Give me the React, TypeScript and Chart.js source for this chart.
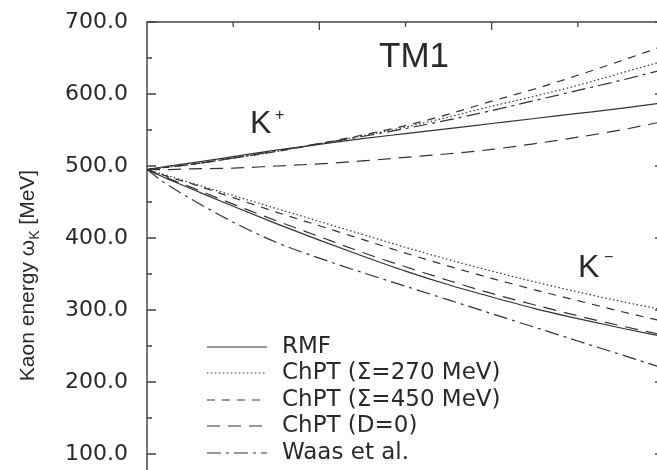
import React, { useEffect, useRef } from "react";
import { Chart, registerables } from "chart.js";

Chart.register(...registerables);

// density (rho / rho0)
const density = [0, 0.1, 0.25, 0.5, 0.75, 1.0, 1.25, 1.5, 1.75, 2.0, 2.25, 2.5, 2.75, 3.0];

// K+ energies [MeV]
const kPlusRMF = [495, 499, 504, 513, 522, 530, 538, 545, 552, 559, 566, 573, 580, 588];
const kPlusChPT270 = [495, 498, 502, 511, 520, 531, 542, 554, 568, 583, 597, 612, 629, 646];
const kPlusChPT450 = [495, 498, 502, 511, 520, 531, 543, 556, 572, 590, 607, 626, 646, 667];
const kPlusD0 = [495, 495, 496, 497, 500, 503, 507, 512, 517, 523, 531, 540, 550, 562];
const kPlusWaas = [495, 498, 502, 511, 521, 531, 541, 552, 564, 577, 591, 605, 619, 634];

// K- energies [MeV]
const kMinusRMF = [495, 484, 469, 444, 420, 397, 375, 354, 335, 318, 302, 288, 275, 263];
const kMinusChPT270 = [495, 488, 477, 459, 441, 423, 405, 387, 370, 354, 339, 325, 312, 300];
const kMinusChPT450 = [495, 487, 476, 456, 436, 417, 398, 379, 361, 344, 328, 313, 298, 284];
const kMinusD0 = [495, 485, 471, 447, 424, 402, 380, 360, 341, 323, 307, 292, 278, 265];
const kMinusWaas = [495, 477, 455, 422, 394, 372, 352, 333, 314, 295, 276, 257, 238, 219];

const seriesLabels = ["RMF", "ChPT (\u03A3=270 MeV)", "ChPT (\u03A3=450 MeV)", "ChPT (D=0)", "Waas et al."];
const seriesDashes: number[][] = [[], [1.5, 2.5], [8, 7], [13, 8], [14, 5, 3, 5]];

const yTicks = [0, 100, 200, 300, 400, 500, 600, 700];

const LINE = "#333";
const TEXT = "#2a2a2a";

function pts(vals: number[]) {
  return vals.map((v, i) => ({ x: density[i], y: v }));
}

const framePlugin = {
  id: "frame",
  afterDraw(chart: any) {
    const ctx = chart.ctx as CanvasRenderingContext2D;
    const { left, top, right, bottom } = chart.chartArea;
    const xs = chart.scales.x;
    const ys = chart.scales.y;
    ctx.save();
    ctx.strokeStyle = "#444";
    ctx.lineWidth = 1.5;
    ctx.beginPath();
    ctx.moveTo(left, bottom);
    ctx.lineTo(left, top);
    ctx.lineTo(right, top);
    ctx.lineTo(right, bottom);
    ctx.stroke();
    ctx.lineWidth = 1.3;
    // y ticks (inward) left & right
    for (let v = 0; v <= 700; v += 50) {
      const y = ys.getPixelForValue(v);
      const len = v % 100 === 0 ? 9 : 5;
      ctx.beginPath();
      ctx.moveTo(left, y);
      ctx.lineTo(left + len, y);
      ctx.moveTo(right, y);
      ctx.lineTo(right - len, y);
      ctx.stroke();
    }
    // x ticks on top (inward)
    for (let d = 0.5; d < 3; d += 0.5) {
      const x = xs.getPixelForValue(d);
      const len = Math.abs(d - Math.round(d)) < 1e-6 ? 8 : 5;
      ctx.beginPath();
      ctx.moveTo(x, top);
      ctx.lineTo(x, top + len);
      ctx.stroke();
    }

    // annotations
    ctx.fillStyle = TEXT;
    ctx.textBaseline = "alphabetic";
    ctx.textAlign = "left";
    ctx.font = '35px "Liberation Sans"';
    ctx.fillText("TM1", 379, 67);
    ctx.font = '32px "Liberation Sans"';
    ctx.fillText("K", 250, 133);
    ctx.font = '16px "Liberation Sans"';
    ctx.fillText("+", 275, 120);
    ctx.font = '32px "Liberation Sans"';
    ctx.fillText("K", 578, 277);
    ctx.font = '16px "Liberation Sans"';
    ctx.fillText("\u2212", 604, 262);

    // y axis title with subscript
    ctx.save();
    ctx.translate(34, 275.5);
    ctx.rotate(-Math.PI / 2);
    const mainFont = '21px "Liberation Sans"';
    const subFont = '14px "Liberation Sans"';
    const p1 = "Kaon energy \u03C9";
    const p2 = "K";
    const p3 = " [MeV]";
    ctx.font = mainFont;
    const w1 = ctx.measureText(p1).width;
    const w3 = ctx.measureText(p3).width;
    ctx.font = subFont;
    const w2 = ctx.measureText(p2).width;
    let x0 = -(w1 + w2 + w3) / 2;
    ctx.font = mainFont;
    ctx.fillText(p1, x0, 0);
    x0 += w1;
    ctx.font = subFont;
    ctx.fillText(p2, x0, 5);
    x0 += w2;
    ctx.font = mainFont;
    ctx.fillText(p3, x0, 0);
    ctx.restore();

    // legend
    const rows = [347, 373, 400, 426, 453];
    const dsets = chart.data.datasets;
    for (let i = 0; i < 5; i++) {
      const ds = dsets[i];
      const y = rows[i];
      ctx.strokeStyle = LINE;
      ctx.lineWidth = 1.2;
      ctx.setLineDash(ds.borderDash || []);
      ctx.beginPath();
      ctx.moveTo(207, y);
      ctx.lineTo(267, y);
      ctx.stroke();
      ctx.setLineDash([]);
      ctx.font = '23px "DejaVu Sans"';
      ctx.textBaseline = "middle";
      ctx.fillText(ds.label, 282, y);
    }
    ctx.restore();
  },
};

export default function App() {
  const ref = useRef<HTMLCanvasElement>(null);
  useEffect(() => {
    const groups = [
      [kPlusRMF, kMinusRMF],
      [kPlusChPT270, kMinusChPT270],
      [kPlusChPT450, kMinusChPT450],
      [kPlusD0, kMinusD0],
      [kPlusWaas, kMinusWaas],
    ];
    const datasets: any[] = [];
    // first five: K+ (used for legend), then K-
    for (let k = 0; k < 2; k++) {
      for (let i = 0; i < 5; i++) {
        datasets.push({
          label: k === 0 ? seriesLabels[i] : seriesLabels[i] + " K-",
          data: pts(groups[i][k]),
          borderColor: LINE,
          borderWidth: 1.2,
          borderDash: seriesDashes[i],
          pointRadius: 0,
          fill: false,
          cubicInterpolationMode: "monotone",
        });
      }
    }
    const chart = new Chart(ref.current!, {
      type: "line",
      data: { datasets },
      options: {
        responsive: false,
        animation: false,
        devicePixelRatio: 1,
        layout: { padding: { left: 0, top: 22, right: 16, bottom: 34 } },
        plugins: { legend: { display: false }, tooltip: { enabled: false } },
        scales: {
          x: { type: "linear", min: 0, max: 3, display: false },
          y: {
            type: "linear",
            min: 0,
            max: 700,
            afterBuildTicks: (s: any) => {
              s.ticks = yTicks.map((v) => ({ value: v }));
            },
            afterFit: (s: any) => {
              s.width = 147;
              s.paddingTop = 0;
              s.paddingBottom = 0;
            },
            grid: { display: false, drawTicks: false },
            border: { display: false },
            ticks: {
              padding: 19,
              color: TEXT,
              font: { family: "DejaVu Sans", size: 22 },
              callback: (v: any) => Number(v).toFixed(1),
            },
          },
        },
      },
      plugins: [framePlugin],
    });
    return () => chart.destroy();
  }, []);
  return (
    <div
      style={{
        position: "fixed",
        left: 0,
        top: 0,
        width: 657,
        height: 470,
        overflow: "hidden",
        background: "#fff",
      }}
    >
      <canvas ref={ref} width={680} height={560} style={{ display: "block", width: 680, height: 560 }} />
    </div>
  );
}
